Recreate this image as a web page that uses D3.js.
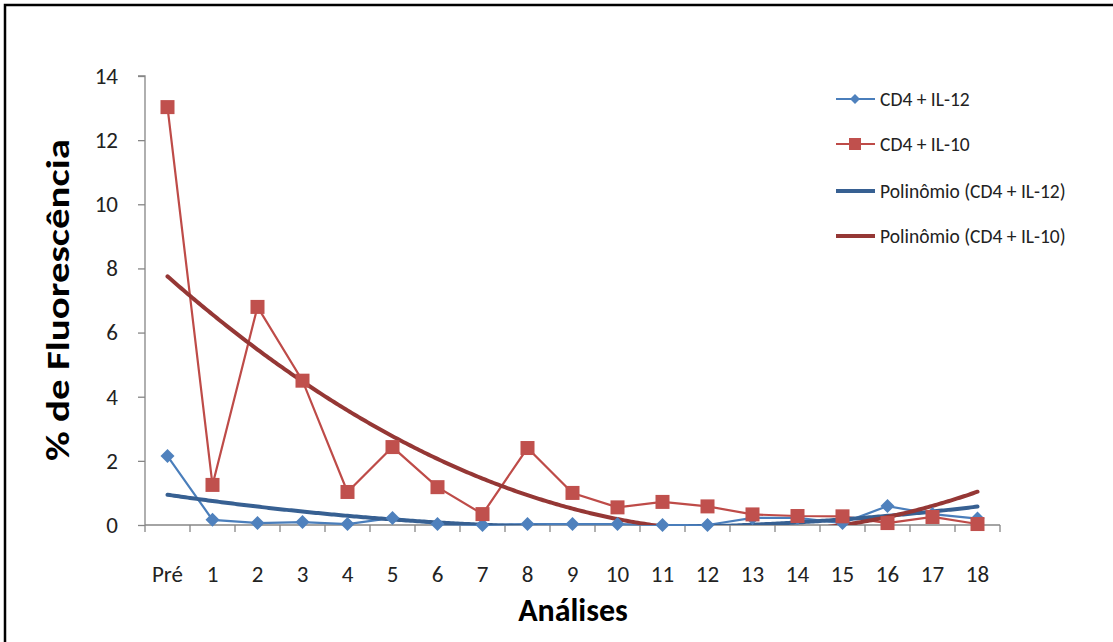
<!DOCTYPE html>
<html><head><meta charset="utf-8">
<script src="https://cdn.jsdelivr.net/npm/d3@7"></script>
<style>
html,body{margin:0;padding:0;background:#fff;}
svg{display:block;font-family:Carlito,Calibri,Lato,"Open Sans",sans-serif;}
</style></head>
<body>
<svg id="chart" width="1113" height="642"></svg>
<script>
// ---- data ----
const categories = ["Pré","1","2","3","4","5","6","7","8","9","10","11","12","13","14","15","16","17","18"];
const il12 = [2.15,0.16,0.06,0.09,0.03,0.22,0.03,0.0,0.03,0.03,0.03,0.0,0.0,0.22,0.22,0.06,0.59,0.34,0.2];
const il10 = [13.03,1.25,6.8,4.5,1.03,2.43,1.18,0.34,2.4,1.0,0.55,0.72,0.58,0.33,0.28,0.27,0.06,0.25,0.03];
const yTicks = [0,2,4,6,8,10,12,14];
const seriesNames = ["CD4 + IL-12","CD4 + IL-10","Polinômio (CD4 + IL-12)","Polinômio (CD4 + IL-10)"];

// ---- layout ----
const svg = d3.select("#chart");
const pL = 145, pR = 1000, pT = 76, pB = 525;
const FONT = 'Carlito,Calibri,Lato,"Open Sans",sans-serif';

svg.append("rect").attr("x",5).attr("y",5).attr("width",1130).attr("height",660)
  .attr("fill","#fff").attr("stroke","#000").attr("stroke-width",2.5);

const x = d3.scaleBand().domain(categories).range([pL,pR]);
const y = d3.scaleLinear().domain([0,14]).range([pB,pT]);
const cx = c => x(c) + x.bandwidth()/2;

// polynomial (order 2) least-squares trend, as the spreadsheet computes it
function polyFit(vals){
  let S=[0,0,0,0,0], T=[0,0,0];
  vals.forEach((v,i)=>{ const t=i+1; for(let k=0;k<5;k++) S[k]+=Math.pow(t,k); for(let k=0;k<3;k++) T[k]+=v*Math.pow(t,k); });
  const A=[[S[0],S[1],S[2],T[0]],[S[1],S[2],S[3],T[1]],[S[2],S[3],S[4],T[2]]];
  for(let i=0;i<3;i++){ for(let j=i+1;j<3;j++){ const f=A[j][i]/A[i][i]; for(let k=i;k<4;k++) A[j][k]-=f*A[i][k]; } }
  const c=[0,0,0];
  for(let i=2;i>=0;i--){ let s=A[i][3]; for(let k=i+1;k<3;k++) s-=A[i][k]*c[k]; c[i]=s/A[i][i]; }
  return t => c[0]+c[1]*t+c[2]*t*t;
}

// axes
const axisColor = "#868686";
const gy = svg.append("g").attr("transform",`translate(${pL},0)`)
  .call(d3.axisLeft(y).tickValues(yTicks).tickSize(7).tickPadding(20).tickFormat(d3.format("d")));
gy.attr("font-family",FONT);
gy.selectAll("path,line").attr("stroke",axisColor).attr("stroke-width",1.3);
gy.select("path").attr("d",`M-7,${pT}H0V${pB}`);
gy.selectAll("text").attr("font-size",23).attr("fill","#222");

const boundaries = d3.range(categories.length+1).map(i=>pL+i*x.step());
svg.append("line").attr("x1",pL).attr("x2",pR).attr("y1",pB).attr("y2",pB)
  .attr("stroke",axisColor).attr("stroke-width",1.3);
svg.selectAll(".xt").data(boundaries).enter().append("line")
  .attr("x1",d=>d).attr("x2",d=>d).attr("y1",pB).attr("y2",pB+7)
  .attr("stroke",axisColor).attr("stroke-width",1.3);
svg.selectAll(".xl").data(categories).enter().append("text")
  .attr("x",d=>cx(d)).attr("y",582).attr("text-anchor","middle")
  .attr("font-size",23).attr("fill","#222").text(d=>d);

// axis titles
svg.append("text").attr("transform","translate(69,300) rotate(-90)")
  .attr("text-anchor","middle").attr("font-size",33).attr("font-weight","bold").attr("fill","#000")
  .attr("textLength",322).attr("lengthAdjust","spacingAndGlyphs")
  .text("% de Fluorescência");
svg.append("text").attr("x",573).attr("y",621).attr("text-anchor","middle")
  .attr("font-size",32).attr("font-weight","bold").attr("fill","#000").text("Análises");

// clip for trend lines
svg.append("clipPath").attr("id","plot").append("rect")
  .attr("x",pL).attr("y",pT-10).attr("width",pR-pL+10).attr("height",pB-pT+10);

const blue="#4A7EBB", red="#BE4B48", blueT="#376092", redT="#953735";
const line = d3.line().x((d,i)=>cx(categories[i])).y(d=>y(d));

// data lines
svg.append("path").datum(il12).attr("d",line).attr("fill","none").attr("stroke",blue).attr("stroke-width",2.2);
svg.append("path").datum(il10).attr("d",line).attr("fill","none").attr("stroke",red).attr("stroke-width",2.2);

// trend lines
const trendX = d3.range(0, categories.length-1+0.001, 0.05);
const xLin = d3.scaleLinear().domain([0,categories.length-1]).range([cx(categories[0]),cx(categories[categories.length-1])]);
[[il12,blueT],[il10,redT]].forEach(([vals,col])=>{
  const f = polyFit(vals);
  svg.append("path").datum(trendX).attr("clip-path","url(#plot)")
    .attr("d",d3.line().x(t=>xLin(t)).y(t=>y(f(t+1))))
    .attr("fill","none").attr("stroke",col).attr("stroke-width",4).attr("stroke-linecap","round");
});

// markers
const diamond = (px,py,r)=>`M${px},${py-r}L${px+r},${py}L${px},${py+r}L${px-r},${py}Z`;
svg.selectAll(".d").data(il12).enter().append("path")
  .attr("d",(d,i)=>diamond(cx(categories[i]),y(d),7)).attr("fill","#4F81BD");
svg.selectAll(".s").data(il10).enter().append("rect")
  .attr("x",(d,i)=>cx(categories[i])-7).attr("y",d=>y(d)-7).attr("width",14).attr("height",14)
  .attr("fill","#C0504D");

// legend
const lg = svg.append("g");
const rows = [99,144,191,236];
seriesNames.forEach((nm,i)=>{
  const ry = rows[i];
  const col = [blue,red,blueT,redT][i];
  lg.append("line").attr("x1",836).attr("x2",875).attr("y1",ry).attr("y2",ry)
    .attr("stroke",col).attr("stroke-width",i<2?2:4);
  if(i===0) lg.append("path").attr("d",diamond(855,ry,5)).attr("fill","#4F81BD");
  if(i===1) lg.append("rect").attr("x",849).attr("y",ry-6).attr("width",12).attr("height",12).attr("fill","#C0504D");
  lg.append("text").attr("x",880).attr("y",ry+7).attr("font-size",19.5).attr("fill","#222").text(nm);
});
</script>
</body></html>
